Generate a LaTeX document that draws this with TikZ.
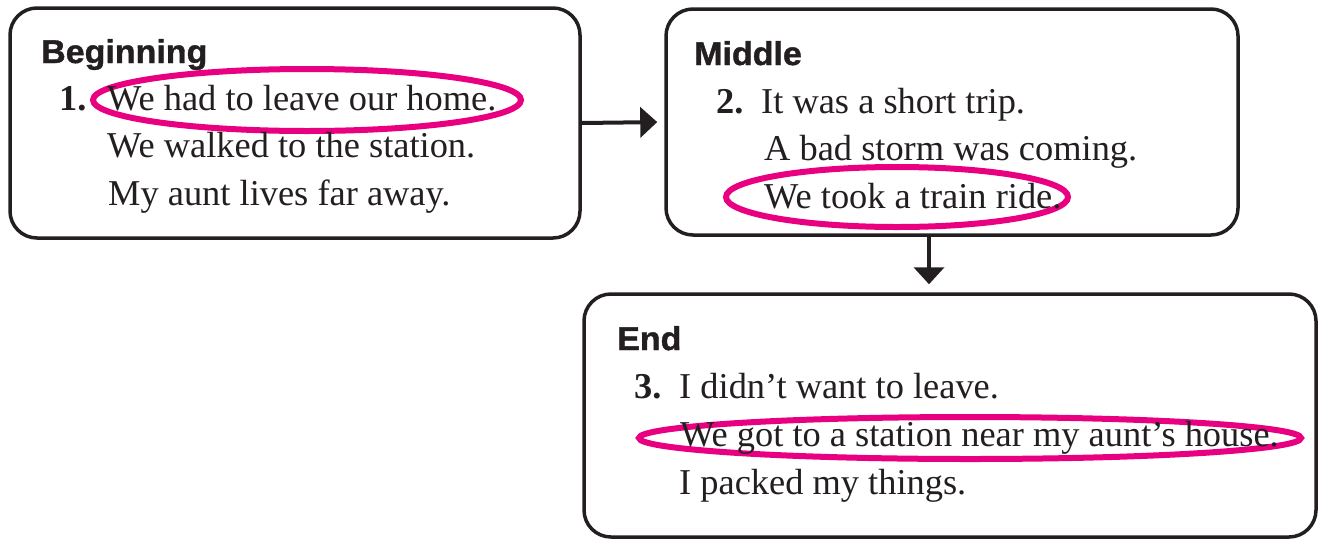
\documentclass[tikz,border=0pt]{standalone}
\usepackage{fontspec}
\setmainfont{Liberation Serif}
\newfontfamily\headfont[FakeStretch=1.03,FakeBold=1.2]{Liberation Sans}
\usetikzlibrary{arrows.meta}
\definecolor{ink}{RGB}{35,31,32}
\definecolor{hlpink}{RGB}{232,0,128}
\begin{document}
\begin{tikzpicture}[x=1pt,y=-1pt,
  box/.style={draw=ink, line width=3.5pt, rounded corners=27pt, inner sep=0pt},
  arr/.style={draw=ink, line width=4pt, -{Triangle[width=30pt,length=17pt]}},
  hl/.style={draw=hlpink, line width=6pt},
  txt/.style={anchor=base west, inner sep=0pt, text=ink, font=\fontsize{36.4}{48}\selectfont},
  num/.style={txt, font=\fontsize{36.4}{48}\selectfont\bfseries},
  head/.style={anchor=base west, inner sep=0pt, text=ink, font=\headfont\bfseries\fontsize{33}{38}\selectfont}]
\useasboundingbox (0,0) rectangle (1319,539);
% boxes
\node[box, minimum width=570pt, minimum height=230pt] (b1) at (295,123) {};
\node[box, minimum width=572pt, minimum height=226pt] (b2) at (952,122) {};
\node[box, minimum width=732pt, minimum height=243pt] (b3) at (950,415.5) {};
% connectors
\draw[arr, shorten >=7pt] (b1.east) -- (b2.west);
\draw[arr, shorten >=8pt] ([xshift=-23pt]b2.south) -- ([xshift=-21pt]b3.north);
% highlight ellipses
\draw[hl] (307,100) ellipse [x radius=214pt, y radius=31pt];
\draw[hl] (897,197) ellipse [x radius=171pt, y radius=30pt];
\draw[hl] (970,438) ellipse [x radius=331pt, y radius=21pt];
% beginning
\node[head] (h1) at (41,63) {Beginning};
\node[num] (n1) at (59,110) {1.};
\node[txt] (t11) at (107,110) {We had to leave our home.};
\node[txt] (t12) at (107,157) {We walked to the station.};
\node[txt] (t13) at (108,205) {My aunt lives far away.};
% middle
\node[head] (h2) at (694,65) {Middle};
\node[num] (n2) at (716,113) {2.};
\node[txt] (t21) at (761,113) {It was a short trip.};
\node[txt] (t22) at (764,160) {A bad storm was coming.};
\node[txt] (t23) at (764,208) {We took a train ride.};
% end
\node[head] (h3) at (617,350) {End};
\node[num] (n3) at (634,398) {3.};
\node[txt] (t31) at (679,398) {I didn’t want to leave.};
\node[txt] (t32) at (680,446) {We got to a station near my aunt’s house.};
\node[txt] (t33) at (679,494) {I packed my things.};
\end{tikzpicture}
\end{document}
